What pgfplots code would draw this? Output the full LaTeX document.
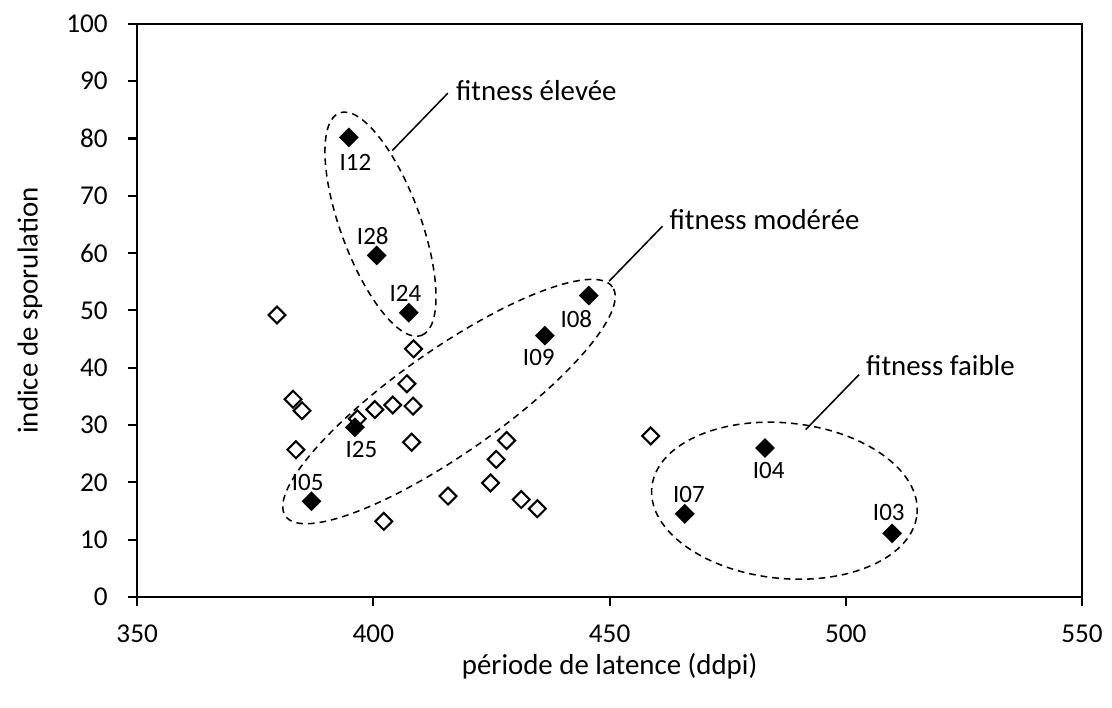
\documentclass[border=0pt]{standalone}
\usepackage{pgfplots}
\pgfplotsset{compat=1.18}
\usepackage{fontspec}
\setmainfont{Carlito}
\begin{document}
\begin{tikzpicture}
\pgfplotstableread{
x y
379.6 49.2
408.5 43.3
407.1 37.2
383.0 34.5
384.9 32.5
400.3 32.7
404.1 33.5
408.4 33.3
396.6 31.1
383.6 25.7
408.1 27.0
402.2 13.2
415.8 17.6
428.2 27.3
426.0 24.0
424.8 19.9
431.3 17.0
434.7 15.4
458.7 28.1
}\opendata
\pgfplotstableread{
x y
394.8 80.2
400.7 59.6
407.5 49.6
445.6 52.6
436.3 45.6
396.1 29.6
386.9 16.7
482.9 26.0
465.9 14.5
509.8 11.1
}\filleddata
\begin{axis}[
  scale only axis,
  width=340.3pt, height=206.4pt,
  xmin=350, xmax=550, ymin=0, ymax=100,
  xtick={350,400,...,550}, ytick={0,10,...,100},
  tick align=outside,
  major tick length=3.3pt,
  xtick pos=bottom, ytick pos=left,
  axis line style={line width=0.75pt},
  every tick/.style={line width=0.75pt, black},
  /pgf/number format/assume math mode=true,
  ticklabel style={font=\fontsize{9.8}{12}\selectfont},
  xticklabel shift=3.2pt,
  yticklabel shift=3.8pt,
  xlabel={période de latence (ddpi)},
  ylabel={indice de sporulation},
  label style={font=\fontsize{10.4}{12}\selectfont},
  xlabel style={at={(axis description cs:0.5,-0.1215)}, anchor=center},
  ylabel style={at={(axis description cs:-0.1134,0.5)}, anchor=center},
  clip=false,
]
\addplot[only marks, mark=square, mark size=2.15pt, mark options={rotate=45, line width=0.75pt, draw=black, fill=none}] table {\opendata};
\addplot[only marks, mark=square*, mark size=2.15pt, mark options={rotate=45, line width=0.75pt, draw=black, fill=black}] table {\filleddata};

\begin{scope}[every node/.style={font=\fontsize{9}{10}\selectfont, inner sep=0pt}]
\node[xshift=2.4pt, yshift=-8.9pt] at (axis cs:394.8,80.2) {I12};
\node[xshift=-1.4pt, yshift=6.9pt] at (axis cs:400.7,59.6) {I28};
\node[xshift=-1.2pt, yshift=6.8pt] at (axis cs:407.5,49.6) {I24};
\node[xshift=-4.5pt, yshift=-8.4pt] at (axis cs:445.6,52.6) {I08};
\node[xshift=-2.2pt, yshift=-8.0pt] at (axis cs:436.3,45.6) {I09};
\node[xshift=2.3pt, yshift=-7.9pt] at (axis cs:396.1,29.6) {I25};
\node[xshift=-1.4pt, yshift=6.9pt] at (axis cs:386.9,16.7) {I05};
\node[xshift=1.3pt, yshift=-8.1pt] at (axis cs:482.9,26.0) {I04};
\node[xshift=1.5pt, yshift=6.9pt] at (axis cs:465.9,14.5) {I07};
\node[xshift=-1.2pt, yshift=7.4pt] at (axis cs:509.8,11.1) {I03};
\end{scope}

\begin{scope}[line width=0.55pt]
\draw[dash pattern=on 2.4pt off 1.8pt] (axis cs:401.5,65.05) circle[x radius=42.7pt, y radius=14.4pt, rotate=-69.8];
\draw[dash pattern=on 2.4pt off 1.8pt] (axis cs:416.0,34.1) circle[x radius=71.9pt, y radius=18.7pt, rotate=35];
\draw[dash pattern=on 2.4pt off 1.8pt] (axis cs:487.0,16.8) circle[x radius=48pt, y radius=28pt, rotate=-5.8];
\draw (axis cs:404.0,77.9) -- (axis cs:415.75,87.9);
\draw (axis cs:449.9,55.1) -- (axis cs:461.2,64.7);
\draw (axis cs:491.5,29.2) -- (axis cs:502.8,38.8);
\end{scope}
\begin{scope}[every node/.style={font=\fontsize{10.4}{12}\selectfont, inner sep=0pt, anchor=west}]
\node at (axis cs:417.4,88.4) {fitness élevée};
\node at (axis cs:462.6,65.8) {fitness modérée};
\node at (axis cs:504.2,40.4) {fitness faible};
\end{scope}
\end{axis}
\path (-49.4pt,-39.7pt) rectangle (350.6pt,215pt);
\end{tikzpicture}
\end{document}
